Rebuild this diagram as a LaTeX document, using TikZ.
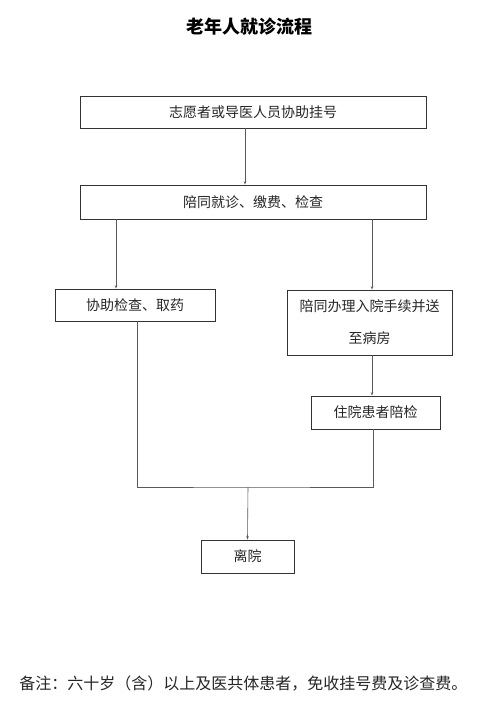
\documentclass[tikz,border=0pt]{standalone}
\usepackage{fontspec}
\setmainfont{Noto Sans CJK SC}
\usetikzlibrary{positioning,arrows.meta}

\begin{document}
\begin{tikzpicture}[x=1pt,y=-1pt,>=Stealth,
  stepbox/.style={rectangle,draw=black!80,line width=0.8pt,inner sep=0pt,
    font=\fontsize{14}{32}\selectfont,text=black!85,align=center},
  arr/.style={->,draw=black!65,line width=0.6pt,>={Stealth[length=3.5pt,width=2.5pt]}},
  link/.style={draw=black!65,line width=0.6pt}]
  \useasboundingbox (0,0) rectangle (486,721);
  % title
  \node[font=\fontsize{18}{20}\selectfont\bfseries] (title) at (249,27) {老年人就诊流程};
  % steps
  \node[stepbox,minimum width=346pt,minimum height=32pt] (reg) at (253,112) {志愿者或导医人员协助挂号};
  \node[stepbox,minimum width=346pt,minimum height=34pt] (visit) at (253,202) {陪同就诊、缴费、检查};
  \node[stepbox,minimum width=160pt,minimum height=32pt] (help) at (135,305) {协助检查、取药};
  \node[stepbox,minimum width=165pt,minimum height=65pt] (admit) at (369.5,322.5) {陪同办理入院手续并送\\至病房};
  \node[stepbox,minimum width=129pt,minimum height=33pt] (stay) at (375.5,412.5) {住院患者陪检};
  \node[stepbox,minimum width=93pt,minimum height=33pt] (leave) at (247.5,556.5) {离院};
  \coordinate (mid) at (248,487);
  % note
  \node[font=\fontsize{16}{18}\selectfont,text=black!85] (note) at (243.5,683) {备注：六十岁（含）以上及医共体患者，免收挂号费及诊查费。};
  % connectors
  \draw[arr] ([xshift=-8pt]reg.south) -- ([xshift=-8pt]visit.north);
  \draw[arr] ([xshift=-137pt]visit.south) -- ([xshift=-19pt]help.north);
  \draw[arr] ([xshift=119pt]visit.south) -- ([xshift=2.5pt]admit.north);
  \draw[arr] ([xshift=2.5pt]admit.south) -- ([xshift=-3.5pt]stay.north);
  \draw[link] ([xshift=2pt]help.south) |- (mid) -| ([xshift=-2.5pt]stay.south);
  \draw[arr] (mid) -- (leave.north);
\end{tikzpicture}
\end{document}
